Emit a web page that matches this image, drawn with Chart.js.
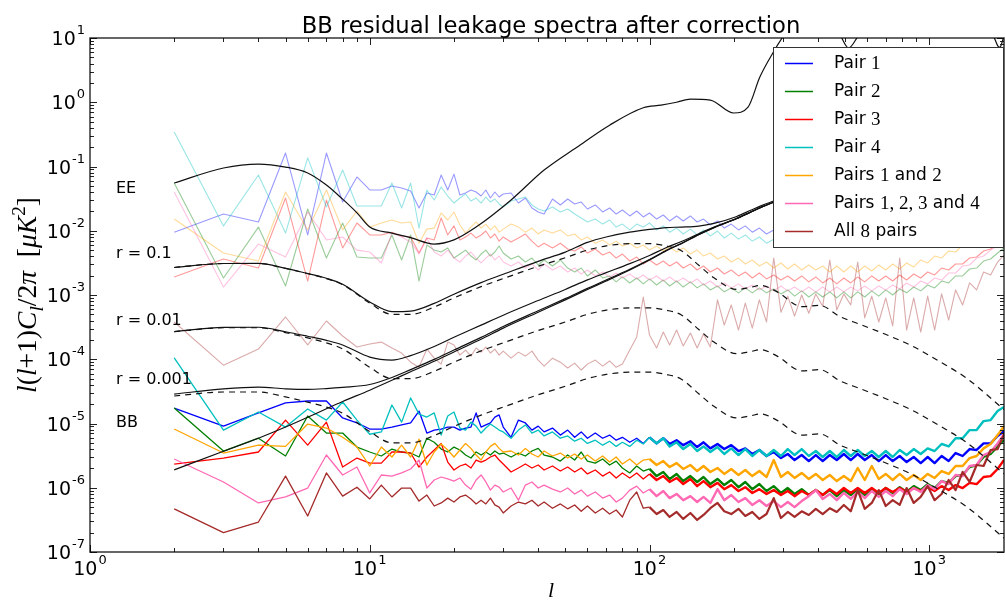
<!DOCTYPE html>
<html>
<head>
<meta charset="utf-8">
<script src="https://cdn.jsdelivr.net/npm/chart.js@4.4.0/dist/chart.umd.min.js"></script>
<style>
  body { margin: 0; background: #fff; }
  #wrap { width: 1005px; height: 601px; }
</style>
</head>
<body>
<div id="wrap"><canvas id="chart"></canvas></div>
<script>
// multipoles shared by all the measured residual spectra
const ells = [2,3,4,5,6,7,8,9,10,11,12,13,14,15,16,17,18,19,20,21,22,23,24,25,26,27,28,29,30,
  32,34,36,38,40,42,45,48,51,54,57,60,64,68,72,76,80,85,90,95,
  100,106,112,118,125,132,140,148,156,165,175,185,196,208,220,233,247,262,278,295,
  312,330,350,371,393,416,441,467,495,524,555,588,623,660,699,740,784,830,880,932,
  987,1045,1107,1173,1242,1316,1394,1477,1564,1657,1755,1850];

// BB residuals (lower group, bright)
const pair1 = [1.74e-5,9.1e-6,1.46e-5,2.1e-5,2.24e-5,2.24e-5,1.22e-5,1.02e-5,8.2e-6,8.2e-6,8.8e-6,9.5e-6,1.02e-5,1.56e-5,7.1e-6,
  7.9e-6,8.2e-6,8.8e-6,8.8e-6,7.9e-6,8.5e-6,8.8e-6,1.46e-5,8.8e-6,9.5e-6,1.02e-5,1.26e-5,1.36e-5,8.8e-6,6.1e-6,1.13e-5,1.02e-5,7.9e-6,9.1e-6,7.4e-6,8.5e-6,6.6e-6,7.9e-6,6.1e-6,7.4e-6,5.9e-6,7.1e-6,5.9e-6,6.6e-6,5.5e-6,6.1e-6,5.1e-6,5.9e-6,4.9e-6,
  6.1e-6,4.9e-6,5.9e-6,4.8e-6,5.5e-6,4.6e-6,5.3e-6,4.3e-6,5.1e-6,4.1e-6,4.8e-6,4.0e-6,4.6e-6,3.73e-6,4.1e-6,3.35e-6,3.87e-6,3.12e-6,3.6e-6,2.9e-6,
  3.35e-6,2.7e-6,3.23e-6,2.6e-6,3.23e-6,2.6e-6,3.23e-6,2.7e-6,3.35e-6,2.7e-6,3.35e-6,2.7e-6,3.23e-6,2.6e-6,3.23e-6,2.6e-6,3.12e-6,2.51e-6,3.01e-6,2.42e-6,
  3.01e-6,2.42e-6,3.12e-6,2.6e-6,3.47e-6,3.12e-6,4.0e-6,3.87e-6,4.9e-6,4.9e-6,6.4e-6,7.6e-6];
const pair2 = [1.74e-5,3.73e-6,5.9e-6,3.12e-6,1.31e-5,7.1e-6,7.1e-6,4.3e-6,3.6e-6,3.12e-6,4.0e-6,3.6e-6,3.47e-6,3.01e-6,5.9e-6,
  5.1e-6,4.0e-6,3.6e-6,4.3e-6,3.87e-6,3.23e-6,2.9e-6,3.6e-6,3.23e-6,3.6e-6,3.23e-6,3.73e-6,3.35e-6,3.47e-6,3.01e-6,3.47e-6,3.12e-6,3.73e-6,4.1e-6,3.23e-6,3.01e-6,2.6e-6,3.23e-6,2.7e-6,3.6e-6,2.6e-6,2.42e-6,2.8e-6,2.26e-6,2.6e-6,2.03e-6,1.7e-6,2.18e-6,1.82e-6,
  1.96e-6,1.52e-6,1.76e-6,1.37e-6,1.64e-6,1.27e-6,1.52e-6,1.23e-6,1.47e-6,1.14e-6,1.37e-6,1.1e-6,1.32e-6,1.02e-6,1.23e-6,9.5e-7,1.14e-6,8.9e-7,1.06e-6,8.3e-7,
  9.9e-7,8.0e-7,9.5e-7,7.7e-7,9.2e-7,7.7e-7,9.2e-7,7.4e-7,9.2e-7,7.7e-7,9.5e-7,7.7e-7,9.5e-7,8.0e-7,9.9e-7,8.3e-7,1.02e-6,8.6e-7,1.06e-6,9.2e-7,
  1.14e-6,9.9e-7,1.27e-6,1.19e-6,1.52e-6,1.58e-6,2.1e-6,2.26e-6,3.01e-6,3.35e-6,4.4e-6,5.5e-6];
const pair3 = [2.34e-6,2.9e-6,3.6e-6,1.13e-5,4.6e-6,1.05e-5,2.1e-6,2.9e-6,2.42e-6,2.42e-6,3.6e-6,3.6e-6,3.47e-6,2.1e-6,3.01e-6,
  3.87e-6,4.9e-6,2.51e-6,1.89e-6,2.18e-6,2.34e-6,2.03e-6,2.7e-6,2.51e-6,2.7e-6,3.01e-6,3.23e-6,2.7e-6,2.34e-6,1.76e-6,2.03e-6,2.34e-6,2.03e-6,2.26e-6,1.89e-6,2.18e-6,1.82e-6,2.1e-6,1.76e-6,2.03e-6,1.64e-6,1.89e-6,1.52e-6,1.76e-6,1.42e-6,1.7e-6,1.42e-6,1.7e-6,1.37e-6,
  1.64e-6,1.32e-6,1.52e-6,1.23e-6,1.42e-6,1.14e-6,1.37e-6,1.06e-6,1.27e-6,1.02e-6,1.19e-6,9.5e-7,1.1e-6,8.9e-7,1.02e-6,8.3e-7,9.5e-7,8.0e-7,9.2e-7,7.7e-7,
  8.9e-7,7.4e-7,8.9e-7,7.7e-7,9.2e-7,7.7e-7,9.5e-7,8.0e-7,9.9e-7,8.3e-7,9.9e-7,8.3e-7,9.9e-7,8.3e-7,9.9e-7,8.6e-7,9.9e-7,8.6e-7,9.9e-7,8.9e-7,
  1.02e-6,8.9e-7,1.06e-6,9.2e-7,1.1e-6,9.9e-7,1.19e-6,1.14e-6,1.47e-6,1.52e-6,1.96e-6,2.7e-6];
const pair4 = [1.05e-4,7.9e-6,1.51e-5,8.8e-6,1.68e-5,1.13e-5,2.16e-5,1.13e-5,6.8e-6,7.4e-6,1.94e-5,1.05e-5,2.5e-5,1.4e-5,1.26e-5,
  1.46e-5,6.6e-6,1.31e-5,1.51e-5,8.5e-6,7.9e-6,1.05e-5,9.1e-6,7.1e-6,8.5e-6,9.8e-6,8.8e-6,7.9e-6,7.4e-6,5.9e-6,7.9e-6,9.5e-6,7.1e-6,7.9e-6,6.4e-6,7.4e-6,5.9e-6,6.4e-6,5.3e-6,5.9e-6,4.9e-6,5.5e-6,4.6e-6,5.3e-6,4.4e-6,5.1e-6,4.4e-6,5.5e-6,4.8e-6,
  6.1e-6,4.9e-6,5.9e-6,4.4e-6,5.1e-6,4.0e-6,4.8e-6,3.73e-6,4.4e-6,3.6e-6,4.3e-6,3.35e-6,4.1e-6,3.23e-6,4.0e-6,3.12e-6,3.87e-6,3.12e-6,3.87e-6,3.12e-6,
  4.0e-6,3.23e-6,4.0e-6,3.12e-6,3.73e-6,3.01e-6,3.73e-6,3.01e-6,3.87e-6,3.12e-6,3.87e-6,3.12e-6,3.73e-6,3.01e-6,3.73e-6,3.01e-6,3.87e-6,3.23e-6,4.0e-6,3.35e-6,
  4.1e-6,3.73e-6,4.8e-6,4.4e-6,5.9e-6,5.9e-6,7.9e-6,7.9e-6,1.09e-5,1.13e-5,1.56e-5,1.81e-5];
const pairs12 = [8.2e-6,3.47e-6,4.6e-6,4.4e-6,9.8e-6,8.5e-6,6.1e-6,4.3e-6,2.18e-6,4.3e-6,3.01e-6,4.6e-6,3.01e-6,5.7e-6,2.26e-6,
  3.6e-6,4.8e-6,3.87e-6,3.01e-6,3.87e-6,4.9e-6,4.1e-6,3.23e-6,2.7e-6,3.6e-6,4.4e-6,4.9e-6,4.1e-6,3.6e-6,3.73e-6,3.23e-6,4.1e-6,3.35e-6,3.01e-6,3.73e-6,3.12e-6,3.47e-6,2.9e-6,3.35e-6,2.8e-6,3.23e-6,2.6e-6,3.12e-6,2.51e-6,3.01e-6,2.34e-6,2.8e-6,2.26e-6,2.7e-6,
  2.8e-6,2.26e-6,2.6e-6,2.1e-6,2.42e-6,1.96e-6,2.26e-6,1.82e-6,2.18e-6,1.76e-6,2.03e-6,1.64e-6,1.96e-6,1.58e-6,1.89e-6,1.52e-6,1.82e-6,1.47e-6,2.7e-6,1.47e-6,
  1.76e-6,1.42e-6,1.7e-6,1.37e-6,1.64e-6,1.32e-6,1.58e-6,1.27e-6,1.52e-6,1.27e-6,2.03e-6,1.32e-6,2.18e-6,1.37e-6,1.64e-6,1.32e-6,1.64e-6,1.32e-6,1.58e-6,1.32e-6,
  1.64e-6,1.42e-6,1.82e-6,1.64e-6,2.18e-6,2.18e-6,2.9e-6,3.12e-6,4.1e-6,4.8e-6,6.6e-6,9.1e-6];
const pairs1234 = [2.8e-6,1.23e-6,5.8e-7,7.2e-7,9.9e-7,3.23e-6,1.58e-6,2.1e-6,8.3e-7,1.58e-6,1.52e-6,1.7e-6,1.96e-6,2.7e-6,9.9e-7,
  1.32e-6,1.47e-6,1.37e-6,1.27e-6,1.42e-6,1.1e-6,9.5e-7,1.32e-6,1.58e-6,1.23e-6,9.2e-7,1.1e-6,1.02e-6,8.6e-7,9.9e-7,6.4e-7,1.1e-6,1.23e-6,9.9e-7,1.1e-6,9.5e-7,8.6e-7,9.9e-7,8.0e-7,9.2e-7,7.4e-7,8.6e-7,6.9e-7,7.7e-7,6.0e-7,6.9e-7,9.2e-7,1.06e-6,8.3e-7,
  9.5e-7,7.4e-7,8.9e-7,6.9e-7,8.0e-7,6.4e-7,7.4e-7,6.0e-7,7.2e-7,5.8e-7,9.5e-7,6.4e-7,7.7e-7,6.0e-7,6.9e-7,5.4e-7,6.4e-7,5.2e-7,6.2e-7,5.0e-7,
  6.0e-7,5.0e-7,6.2e-7,7.4e-7,9.2e-7,6.7e-7,8.0e-7,6.4e-7,8.3e-7,6.7e-7,8.6e-7,6.9e-7,8.9e-7,7.2e-7,8.9e-7,7.4e-7,9.5e-7,8.0e-7,9.9e-7,8.6e-7,
  1.1e-6,9.5e-7,1.27e-6,1.14e-6,1.58e-6,1.52e-6,2.18e-6,2.26e-6,3.23e-6,3.6e-6,4.9e-6,6.8e-6];
const all8 = [4.7e-7,2.0e-7,2.93e-7,1.52e-6,3.64e-7,1.7e-6,7.4e-7,1.02e-6,6.7e-7,1.1e-6,7.2e-7,9.9e-7,9.9e-7,6.2e-7,7.7e-7,
  5.2e-7,5.8e-7,6.9e-7,6.0e-7,7.2e-7,7.7e-7,6.7e-7,5.6e-7,6.4e-7,5.6e-7,6.9e-7,5.4e-7,5.0e-7,4.05e-7,5.2e-7,6.0e-7,5.6e-7,6.4e-7,5.2e-7,6.0e-7,4.8e-7,5.6e-7,4.7e-7,5.4e-7,4.3e-7,5.2e-7,4.05e-7,4.8e-7,3.9e-7,4.5e-7,3.51e-7,6.4e-7,8.6e-7,4.8e-7,
  5.0e-7,3.9e-7,4.5e-7,3.51e-7,4.2e-7,3.27e-7,4.05e-7,3.15e-7,3.77e-7,4.8e-7,5.8e-7,4.3e-7,3.9e-7,4.7e-7,3.64e-7,4.2e-7,3.27e-7,3.9e-7,6.9e-7,3.38e-7,
  4.2e-7,3.51e-7,4.3e-7,3.77e-7,4.7e-7,3.9e-7,4.8e-7,4.2e-7,5.4e-7,4.3e-7,9.2e-7,4.7e-7,5.8e-7,9.2e-7,5.2e-7,6.4e-7,5.4e-7,9.9e-7,5.8e-7,7.2e-7,
  1.06e-6,6.4e-7,8.0e-7,1.32e-6,9.2e-7,1.76e-6,1.23e-6,2.26e-6,2.18e-6,3.87e-6,4.0e-6,6.8e-6];

// upper group (faded)
const pair1Upper = [9.5e-3,1.82e-2,1.37e-2,0.162,8.6e-3,0.162,2.8e-2,6.87e-2,4.31e-2,4.31e-2,4.97e-2,4.63e-2,4.16e-2,2.26e-2,3.87e-2,
  3.6e-2,7.38e-2,4.31e-2,7.6e-2,3.6e-2,3.87e-2,4.31e-2,4.01e-2,3.47e-2,4.31e-2,3.23e-2,4.01e-2,3.35e-2,3.73e-2,3.87e-2,2.7e-2,3.23e-2,2.26e-2,1.96e-2,1.82e-2,3.12e-2,2.52e-2,3.12e-2,2.61e-2,2.8e-2,2.18e-2,2.52e-2,1.96e-2,2.26e-2,1.82e-2,2.1e-2,1.7e-2,2.03e-2,1.64e-2,
  1.89e-2,1.52e-2,1.76e-2,1.42e-2,1.7e-2,1.42e-2,1.7e-2,1.37e-2,1.52e-2,1.23e-2,1.42e-2,1.1e-2,1.27e-2,1.03e-2,1.19e-2,9.5e-3,1.1e-2,8.9e-3,1.03e-2,8.6e-3,
  9.5e-3,8.3e-3,9.2e-3,8.0e-3,8.9e-3,7.7e-3,8.6e-3,7.4e-3,8.3e-3,7.2e-3,8.3e-3,7.2e-3,8.3e-3,7.2e-3,8.3e-3,7.2e-3,8.3e-3,7.4e-3,8.6e-3,7.7e-3,
  8.9e-3,8.0e-3,9.5e-3,8.9e-3,1.06e-2,1.03e-2,1.23e-2,1.27e-2,1.52e-2,1.64e-2,1.96e-2,2.26e-2];
const pair2Upper = [5.54e-2,1.84e-3,1.14e-2,1.38e-3,2.18e-2,3.76e-3,1.32e-2,3.9e-3,3.76e-3,3.76e-3,8.6e-3,3.51e-3,8.6e-3,1.65e-3,6.0e-3,
  5.0e-3,4.67e-3,5.4e-3,3.76e-3,4.34e-3,5.0e-3,4.04e-3,3.51e-3,4.34e-3,5.0e-3,4.04e-3,4.67e-3,5.8e-3,4.5e-3,3.63e-3,4.04e-3,3.26e-3,3.76e-3,2.93e-3,3.51e-3,2.83e-3,3.51e-3,2.63e-3,2.28e-3,2.63e-3,1.98e-3,2.45e-3,1.84e-3,1.98e-3,1.6e-3,1.91e-3,1.54e-3,1.84e-3,1.49e-3,
  1.78e-3,1.43e-3,1.71e-3,1.38e-3,1.65e-3,1.33e-3,1.6e-3,1.29e-3,1.49e-3,1.2e-3,1.38e-3,1.12e-3,1.29e-3,1.08e-3,1.29e-3,1.08e-3,1.29e-3,1.08e-3,1.24e-3,1.04e-3,
  1.2e-3,9.6e-4,1.16e-3,9.3e-4,1.12e-3,9.3e-4,1.12e-3,9.0e-4,1.12e-3,9.0e-4,1.12e-3,9.3e-4,1.16e-3,9.6e-4,1.2e-3,1.0e-3,1.24e-3,1.08e-3,1.33e-3,1.16e-3,
  1.43e-3,1.29e-3,1.65e-3,1.54e-3,1.98e-3,1.98e-3,2.54e-3,2.63e-3,3.38e-3,3.63e-3,4.5e-3,5.4e-3];
const pair3Upper = [1.91e-3,3.63e-3,2.63e-3,3.23e-2,1.65e-3,3.01e-2,5.4e-3,1.32e-2,8.6e-3,8.6e-3,9.5e-3,8.3e-3,8.0e-3,4.5e-3,7.7e-3,
  7.2e-3,1.58e-2,8.6e-3,1.19e-2,7.2e-3,8.0e-3,9.2e-3,7.7e-3,8.6e-3,9.9e-3,7.7e-3,8.9e-3,6.9e-3,8.0e-3,6.7e-3,7.7e-3,8.9e-3,6.9e-3,5.6e-3,6.4e-3,5.4e-3,6.4e-3,5.2e-3,4.84e-3,5.6e-3,4.5e-3,5.2e-3,4.19e-3,4.67e-3,3.76e-3,4.34e-3,3.38e-3,3.9e-3,3.04e-3,
  3.51e-3,2.93e-3,3.38e-3,2.83e-3,3.26e-3,2.63e-3,3.04e-3,2.45e-3,2.83e-3,2.28e-3,2.63e-3,2.12e-3,2.45e-3,1.98e-3,2.28e-3,1.84e-3,2.2e-3,1.78e-3,2.05e-3,1.71e-3,
  1.98e-3,1.65e-3,1.98e-3,1.6e-3,1.91e-3,1.54e-3,1.84e-3,1.49e-3,1.84e-3,1.54e-3,1.91e-3,1.6e-3,1.98e-3,1.65e-3,1.98e-3,1.65e-3,2.05e-3,1.71e-3,2.12e-3,1.84e-3,
  2.28e-3,2.05e-3,2.63e-3,2.45e-3,3.04e-3,3.04e-3,3.76e-3,3.9e-3,4.84e-3,5.2e-3,6.2e-3,7.2e-3];
const pair4Upper = [0.344,1.19e-2,7.38e-2,9.2e-3,0.136,2.34e-2,8.83e-2,2.43e-2,2.43e-2,2.43e-2,5.54e-2,2.26e-2,5.54e-2,1.1e-2,4.31e-2,
  3.01e-2,4.8e-2,3.47e-2,2.7e-2,3.23e-2,3.73e-2,2.9e-2,3.23e-2,2.7e-2,3.35e-2,2.8e-2,3.12e-2,2.61e-2,2.34e-2,2.9e-2,3.12e-2,3.35e-2,2.52e-2,2.18e-2,2.03e-2,2.34e-2,1.96e-2,2.18e-2,1.82e-2,1.58e-2,1.37e-2,1.52e-2,1.27e-2,1.47e-2,1.14e-2,1.27e-2,1.03e-2,1.27e-2,1.14e-2,
  1.32e-2,1.03e-2,1.19e-2,9.5e-3,1.1e-2,8.9e-3,1.06e-2,8.6e-3,1.03e-2,8.3e-3,9.9e-3,7.7e-3,9.2e-3,7.4e-3,8.6e-3,6.9e-3,8.0e-3,6.4e-3,7.4e-3,6.2e-3,
  7.2e-3,6.0e-3,7.2e-3,6.0e-3,7.2e-3,6.0e-3,7.2e-3,6.0e-3,7.2e-3,6.0e-3,7.2e-3,6.0e-3,7.2e-3,6.2e-3,7.4e-3,6.4e-3,7.7e-3,6.7e-3,8.0e-3,7.2e-3,
  8.9e-3,8.3e-3,1.03e-2,1.03e-2,1.27e-2,1.32e-2,1.64e-2,1.82e-2,2.26e-2,2.61e-2,3.23e-2,3.87e-2];
const pairs12Upper = [1.52e-2,4.5e-3,3.38e-3,4.01e-2,1.03e-2,4.31e-2,1.03e-2,2.03e-2,1.14e-2,1.32e-2,1.47e-2,1.32e-2,1.37e-2,6.4e-3,1.06e-2,
  1.1e-2,1.89e-2,1.47e-2,1.96e-2,1.23e-2,9.2e-3,1.14e-2,1.37e-2,1.1e-2,1.27e-2,1.03e-2,1.19e-2,9.5e-3,1.06e-2,1.27e-2,1.14e-2,9.5e-3,1.1e-2,8.9e-3,1.03e-2,9.2e-3,1.03e-2,8.3e-3,8.9e-3,7.2e-3,8.0e-3,6.4e-3,7.2e-3,6.0e-3,6.9e-3,5.8e-3,6.4e-3,5.4e-3,6.0e-3,
  5.0e-3,5.8e-3,4.84e-3,5.6e-3,4.67e-3,5.4e-3,4.34e-3,5.0e-3,4.04e-3,4.5e-3,3.63e-3,4.04e-3,3.26e-3,3.76e-3,3.04e-3,3.51e-3,2.83e-3,3.26e-3,2.63e-3,3.15e-3,
  2.54e-3,3.04e-3,2.45e-3,2.93e-3,2.45e-3,2.83e-3,2.28e-3,2.83e-3,2.28e-3,2.83e-3,2.28e-3,2.83e-3,2.36e-3,2.93e-3,2.45e-3,3.04e-3,2.54e-3,3.15e-3,2.73e-3,3.51e-3,
  3.15e-3,4.04e-3,3.76e-3,4.84e-3,4.67e-3,6.0e-3,6.0e-3,7.7e-3,8.3e-3,1.03e-2,1.19e-2,1.42e-2];
const pairs1234Upper = [4.01e-2,1.33e-3,6.2e-3,3.9e-3,1.96e-2,7.2e-3,8.0e-3,5.0e-3,4.67e-3,3.15e-3,9.2e-3,8.0e-3,6.7e-3,4.34e-3,7.7e-3,
  4.67e-3,4.04e-3,5.0e-3,3.76e-3,3.26e-3,4.04e-3,4.67e-3,3.76e-3,3.15e-3,3.76e-3,4.34e-3,3.51e-3,4.04e-3,3.26e-3,2.83e-3,3.26e-3,2.63e-3,3.04e-3,2.45e-3,3.04e-3,2.45e-3,2.83e-3,2.28e-3,2.63e-3,2.12e-3,2.45e-3,1.98e-3,2.28e-3,1.91e-3,2.2e-3,1.84e-3,2.12e-3,1.78e-3,2.05e-3,
  1.71e-3,1.98e-3,1.65e-3,1.91e-3,1.6e-3,1.84e-3,1.54e-3,1.78e-3,1.43e-3,1.65e-3,1.33e-3,1.54e-3,1.29e-3,1.49e-3,1.24e-3,1.43e-3,1.2e-3,1.38e-3,1.16e-3,1.38e-3,
  1.16e-3,1.33e-3,1.12e-3,1.33e-3,1.12e-3,1.33e-3,1.12e-3,1.33e-3,1.12e-3,1.33e-3,1.16e-3,1.38e-3,1.16e-3,1.38e-3,1.2e-3,1.43e-3,1.24e-3,1.54e-3,1.33e-3,1.65e-3,
  1.49e-3,1.84e-3,1.71e-3,2.2e-3,2.2e-3,2.83e-3,2.93e-3,3.76e-3,4.04e-3,5.0e-3,5.8e-3,6.9e-3];
const all8Upper = [3.8e-4,8.1e-5,1.44e-4,4.55e-4,1.67e-4,3.94e-4,2.3e-4,1.55e-4,1.73e-4,1.85e-4,1.5e-4,1.25e-4,9.0e-5,7.5e-5,1.44e-4,
  1.04e-4,8.4e-5,1.85e-4,1.67e-4,1.16e-4,1.39e-4,1.12e-4,1.5e-4,1.29e-4,1.55e-4,1.25e-4,1.44e-4,1.16e-4,1.34e-4,1.04e-4,1.29e-4,1.12e-4,1.34e-4,9.7e-5,7.8e-5,1.04e-4,9.0e-5,7.3e-5,8.7e-5,6.8e-5,8.4e-5,9.7e-5,7.8e-5,9.4e-5,7.5e-5,8.4e-5,1.39e-4,2.22e-4,9.3e-4,
  2.38e-4,1.5e-4,2.65e-4,1.67e-4,2.85e-4,1.61e-4,2.56e-4,1.5e-4,2.47e-4,1.55e-4,8.4e-4,3.41e-4,6.98e-4,2.85e-4,7.5e-4,3.05e-4,8.4e-4,3.8e-4,3.76e-3,5.4e-4,
  9.6e-4,4.7e-4,1.0e-3,5.2e-4,1.04e-3,6.7e-4,3.51e-3,5.84e-4,1.04e-3,6.98e-4,3.26e-3,4.4e-4,9.6e-4,3.8e-4,9.0e-4,3.3e-4,3.76e-3,2.85e-4,9.0e-4,2.65e-4,
  9.6e-4,2.85e-4,1.04e-3,4.08e-4,1.2e-3,6.98e-4,1.54e-3,1.2e-3,2.28e-3,2.05e-3,3.26e-3,4.19e-3];

// model spectra
const theoryEll = [2,3,4,5,6,7,8,10,12,14,17,20,25,30,40,50,60,70,85,100,115,130,150,170,205,230,250,285,350,405,480,565,700,875,1090,1365,1850];
const lensingBB = [1.9e-6,3.7e-6,5.9e-6,8.8e-6,1.25e-5,1.7e-5,2.2e-5,3.3e-5,4.7e-5,6.4e-5,9.3e-5,1.3e-4,2.05e-4,3.05e-4,5.4e-4,8.4e-4,1.22e-3,1.65e-3,2.45e-3,3.5e-3,4.9e-3,6.3e-3,8.7e-3,1.12e-2,1.55e-2,1.95e-2,2.3e-2,2.9e-2,3.7e-2,4.3e-2,5.0e-2,5.7e-2,6.4e-2,7.0e-2,7.3e-2,7.1e-2,6.2e-2];
const tensorR01 = [2.68e-3,3.09e-3,3.09e-3,2.59e-3,2.15e-3,1.8e-3,1.45e-3,7.5e-4,5.0e-4,5.0e-4,6.5e-4,9.0e-4,1.35e-3,1.8e-3,2.8e-3,3.8e-3,5.0e-3,5.8e-3,6.3e-3,6.3e-3,5.8e-3,4.9e-3,2.9e-3,1.85e-3,1.22e-3,1.32e-3,1.41e-3,1.13e-3,6.6e-4,6.9e-4,4.6e-4,3.5e-4,2.43e-4,1.58e-4,9.2e-5,5.0e-5,1.65e-5];
const tensorR001 = [2.68e-4,3.09e-4,3.09e-4,2.59e-4,2.15e-4,1.8e-4,1.45e-4,7.5e-5,5.0e-5,5.0e-5,6.5e-5,9.0e-5,1.35e-4,1.8e-4,2.8e-4,3.8e-4,5.0e-4,5.8e-4,6.3e-4,6.3e-4,5.8e-4,4.9e-4,2.9e-4,1.85e-4,1.22e-4,1.32e-4,1.41e-4,1.13e-4,6.6e-5,6.9e-5,4.6e-5,3.5e-5,2.43e-5,1.58e-5,9.2e-6,5.0e-6,1.65e-6];
const tensorR0001 = [2.68e-5,3.09e-5,3.09e-5,2.59e-5,2.15e-5,1.8e-5,1.45e-5,7.5e-6,5.0e-6,5.0e-6,6.5e-6,9.0e-6,1.35e-5,1.8e-5,2.8e-5,3.8e-5,5.0e-5,5.8e-5,6.3e-5,6.3e-5,5.8e-5,4.9e-5,2.9e-5,1.85e-5,1.22e-5,1.32e-5,1.41e-5,1.13e-5,6.6e-6,6.9e-6,4.6e-6,3.5e-6,2.43e-6,1.58e-6,9.2e-7,5.0e-7,1.65e-7];
const totalR01 = [2.68e-3,3.09e-3,3.1e-3,2.6e-3,2.16e-3,1.82e-3,1.47e-3,7.8e-4,5.5e-4,5.6e-4,7.4e-4,1.03e-3,1.56e-3,2.1e-3,3.34e-3,4.64e-3,6.6e-3,8.0e-3,9.5e-3,1.05e-2,1.12e-2,1.14e-2,1.18e-2,1.3e-2,1.67e-2,2.08e-2,2.44e-2,3.01e-2,3.77e-2,4.37e-2,5.05e-2,5.74e-2,6.42e-2,7.02e-2,7.31e-2,7.1e-2,6.2e-2];
const totalR001 = [2.7e-4,3.13e-4,3.15e-4,2.68e-4,2.28e-4,1.97e-4,1.67e-4,1.08e-4,9.7e-5,1.14e-4,1.58e-4,2.2e-4,3.4e-4,4.85e-4,8.2e-4,1.22e-3,1.72e-3,2.23e-3,3.08e-3,4.13e-3,5.48e-3,6.79e-3,8.99e-3,1.14e-2,1.56e-2,1.96e-2,2.31e-2,2.91e-2,3.71e-2,4.31e-2,5.0e-2,5.7e-2,6.4e-2,7.0e-2,7.3e-2,7.1e-2,6.2e-2];
const totalR0001 = [2.87e-5,3.46e-5,3.68e-5,3.47e-5,3.4e-5,3.5e-5,3.65e-5,4.05e-5,5.2e-5,6.9e-5,9.95e-5,1.39e-4,2.19e-4,3.23e-4,5.68e-4,8.78e-4,1.27e-3,1.71e-3,2.51e-3,3.56e-3,4.96e-3,6.35e-3,8.73e-3,1.12e-2,1.55e-2,1.95e-2,2.3e-2,2.9e-2,3.7e-2,4.3e-2,5.0e-2,5.7e-2,6.4e-2,7.0e-2,7.3e-2,7.1e-2,6.2e-2];
const eeEll = [2,3,4,5,6,7,8,9,10,12,14,17,20,24,32,42,55,72,95,110,125,140,165,200,225,248,276,300,350,400,450,487,515,551,600,700,800,1000,1200,1400,1600,1700,1760,1790,1820,1850];
const eeModel = [0.0553,0.0948,0.109,0.098,0.0793,0.0515,0.031,0.019,0.0114,0.0092,0.0078,0.0062,0.0072,0.0114,0.0301,0.088,0.2,0.44,0.82,0.9,1.0,1.12,1.08,0.68,0.84,2.47,5.85,10.5,25,35,25,10,7,10,20,40,25,45,35,25,15,10.5,7.5,7.2,8.5,11];

const xTickExps = [0, 1, 2, 3];
const yTickExps = [1, 0, -1, -2, -3, -4, -5, -6, -7];
const curveLabels = ['EE', 'r = 0.1', 'r = 0.01', 'r = 0.001', 'BB'];

const colors = {
  pair1: [0, 0, 255], pair2: [0, 128, 0], pair3: [255, 0, 0], pair4: [0, 191, 191],
  pairs12: [255, 165, 0], pairs1234: [255, 105, 180], all8: [165, 42, 42]
};
const rgba = (c, a) => `rgba(${c[0]},${c[1]},${c[2]},${a})`;
const pts = (xs, ys) => xs.map((x, i) => ({ x: x, y: ys[i] }));

// faded spectra: one constant width so the translucent path is stroked once
function faded(ys, c) {
  return { data: pts(ells, ys), borderColor: rgba(c, 0.4), borderWidth: 1.1, tension: 0 };
}
// the dense high-l noise reads as a band, so the line gets wider past l = 100
function bright(ys, c, bandWidth) {
  return {
    data: pts(ells, ys), borderColor: rgba(c, 1), borderWidth: 1.3, tension: 0,
    segment: { borderWidth: s => (s.p0.parsed.x >= 100 ? bandWidth : 1.3) }
  };
}
function model(xs, ys, dashed) {
  return { data: pts(xs, ys), borderColor: '#111', borderWidth: 1.2,
    borderDash: dashed ? [6, 5] : [], cubicInterpolationMode: 'monotone' };
}

const datasets = [
  faded(pair1Upper, colors.pair1),
  faded(pair2Upper, colors.pair2),
  faded(pair3Upper, colors.pair3),
  faded(pair4Upper, colors.pair4),
  faded(pairs12Upper, colors.pairs12),
  faded(pairs1234Upper, colors.pairs1234),
  faded(all8Upper, colors.all8),
  bright(pair1, colors.pair1, 2.4),
  bright(pair2, colors.pair2, 2.4),
  bright(pair3, colors.pair3, 2.4),
  bright(pair4, colors.pair4, 2.4),
  bright(pairs12, colors.pairs12, 2.4),
  bright(pairs1234, colors.pairs1234, 2.4),
  bright(all8, colors.all8, 2.2),
  model(eeEll, eeModel, false),
  model(theoryEll, tensorR01, true),
  model(theoryEll, tensorR001, true),
  model(theoryEll, tensorR0001, true),
  model(theoryEll, totalR01, false),
  model(theoryEll, totalR001, false),
  model(theoryEll, totalR0001, false),
  model(theoryEll, lensingBB, false)
];
// later datasets on top, as in the original plot
datasets.forEach((d, i) => { d.order = -i; });

const legendItems = [
  { c: colors.pair1, parts: [['Pair ', 's'], ['1', 'm']] },
  { c: colors.pair2, parts: [['Pair ', 's'], ['2', 'm']] },
  { c: colors.pair3, parts: [['Pair ', 's'], ['3', 'm']] },
  { c: colors.pair4, parts: [['Pair ', 's'], ['4', 'm']] },
  { c: colors.pairs12, parts: [['Pairs ', 's'], ['1', 'm'], [' and ', 's'], ['2', 'm']] },
  { c: colors.pairs1234, parts: [['Pairs ', 's'], ['1, 2, 3', 'm'], [' and ', 's'], ['4', 'm']] },
  { c: colors.all8, parts: [['All ', 's'], ['8', 'm'], [' pairs', 's']] }
];

function tickValues(lo, hi) {
  const out = [];
  for (let e = Math.floor(Math.log10(lo)); e <= Math.ceil(Math.log10(hi)); e++) {
    for (let k = 1; k <= 9; k++) {
      const v = k * Math.pow(10, e);
      if (v >= lo * 0.999 && v <= hi * 1.001) out.push({ v: v, major: k === 1 });
    }
  }
  return out;
}

function powerLabel(ctx, exp, x, y, align) {
  const base = '10', sup = String(exp);
  ctx.font = '19px "DejaVu Sans"';
  const wb = ctx.measureText(base).width;
  ctx.font = '13px "DejaVu Sans"';
  const ws = ctx.measureText(sup).width;
  const total = wb + ws + 1;
  const x0 = align === 'center' ? x - total / 2 : x - total;
  ctx.font = '19px "DejaVu Sans"';
  ctx.fillText(base, x0, y + 7);
  ctx.font = '13px "DejaVu Sans"';
  ctx.fillText(sup, x0 + wb + 1, y - 4);
}

function drawParts(ctx, parts, x, y) {
  let cx = x;
  parts.forEach(p => {
    ctx.font = p[1];
    ctx.fillText(p[0], cx, y + (p[2] || 0));
    cx += ctx.measureText(p[0]).width;
  });
  return cx - x;
}
function partsWidth(ctx, parts) {
  let w = 0;
  parts.forEach(p => { ctx.font = p[1]; w += ctx.measureText(p[0]).width; });
  return w;
}

const decor = {
  id: 'decor',
  beforeDraw(chart) {
    const ctx = chart.ctx;
    ctx.save();
    ctx.fillStyle = '#fff';
    ctx.fillRect(0, 0, chart.width, chart.height);
    ctx.restore();
  },
  afterDatasetsDraw(chart) {
    const { ctx, chartArea: a, scales: { x, y } } = chart;
    ctx.save();

    // ticks, inward on all four sides
    ctx.strokeStyle = '#222';
    ctx.lineWidth = 1;
    ctx.beginPath();
    tickValues(x.min, x.max).forEach(t => {
      const px = Math.round(x.getPixelForValue(t.v)) + 0.5;
      const len = t.major ? 7 : 4;
      ctx.moveTo(px, a.bottom); ctx.lineTo(px, a.bottom - len);
      ctx.moveTo(px, a.top); ctx.lineTo(px, a.top + len);
    });
    tickValues(y.min, y.max).forEach(t => {
      const py = Math.round(y.getPixelForValue(t.v)) + 0.5;
      const len = t.major ? 7 : 4;
      ctx.moveTo(a.left, py); ctx.lineTo(a.left + len, py);
      ctx.moveTo(a.right, py); ctx.lineTo(a.right - len, py);
    });
    ctx.stroke();

    // frame
    ctx.strokeStyle = 'rgba(0,0,0,0.8)';
    ctx.lineWidth = 1.5;
    ctx.strokeRect(a.left, a.top, a.right - a.left, a.bottom - a.top);

    // tick labels
    ctx.fillStyle = '#000';
    ctx.textAlign = 'left';
    ctx.textBaseline = 'alphabetic';
    xTickExps.forEach(e => powerLabel(ctx, e, x.getPixelForValue(Math.pow(10, e)), 568, 'center'));
    yTickExps.forEach(e => powerLabel(ctx, e, 85, y.getPixelForValue(Math.pow(10, e)), 'right'));

    // curve labels
    ctx.font = '16px "DejaVu Sans"';
    const labelBaselines = [193, 258, 325, 384, 427];
    curveLabels.forEach((t, i) => ctx.fillText(t, 116, labelBaselines[i]));

    // title
    const title = 'BB residual leakage spectra after correction';
    ctx.font = '22px "DejaVu Sans"';
    const ts = 22 * 500 / ctx.measureText(title).width;
    ctx.font = ts.toFixed(1) + 'px "DejaVu Sans"';
    ctx.textAlign = 'center';
    ctx.fillText(title, 551, 33);

    // x label
    ctx.font = 'italic 22px "Liberation Serif"';
    ctx.fillText('l', 551, 597);

    // y label, rotated
    ctx.textAlign = 'left';
    const mk = s => {
      const it = 'italic ' + s + 'px "Liberation Serif"';
      const rm = s + 'px "Liberation Serif"';
      const sm = (s * 0.7).toFixed(1) + 'px "Liberation Serif"';
      const smi = 'italic ' + sm;
      return [['l', it], ['(', rm], ['l', it], ['+1)', rm], ['C', it], ['l', smi, s * 0.25],
        ['/2', rm], ['\u03c0', it], ['  [', rm], ['\u03bcK', it], ['2', sm, -s * 0.4], [']', rm]];
    };
    const s = 22 * 196 / partsWidth(ctx, mk(22));
    const yl = mk(s);
    const w = partsWidth(ctx, yl);
    ctx.save();
    ctx.translate(36, 295);
    ctx.rotate(-Math.PI / 2);
    drawParts(ctx, yl, -w / 2, 0);
    ctx.restore();

    // legend box
    const L = { left: 773, top: 47, right: 1004, bottom: 248 };
    ctx.fillStyle = '#fff';
    ctx.fillRect(L.left, L.top, L.right - L.left, L.bottom - L.top);
    ctx.strokeStyle = '#333';
    ctx.lineWidth = 1;
    ctx.strokeRect(L.left + 0.5, L.top + 0.5, L.right - L.left - 1, L.bottom - L.top - 1);
    ctx.textBaseline = 'middle';
    legendItems.forEach((it, i) => {
      const ry = 63 + i * 28;
      ctx.strokeStyle = rgba(it.c, 1);
      ctx.lineWidth = 1.5;
      ctx.beginPath();
      ctx.moveTo(785, ry + 0.5); ctx.lineTo(813, ry + 0.5);
      ctx.stroke();
      ctx.fillStyle = '#000';
      const parts = it.parts.map(p => [p[0], p[1] === 's' ? '17px "DejaVu Sans"' : '19px "Liberation Serif"']);
      drawParts(ctx, parts, 834, ry + 1);
    });
    ctx.restore();
  }
};

new Chart(document.getElementById('chart'), {
  type: 'line',
  data: { datasets: datasets },
  options: {
    responsive: true,
    maintainAspectRatio: false,
    animation: false,
    devicePixelRatio: 1,
    layout: { padding: { top: 38, right: 1, left: 0, bottom: 0 } },
    elements: { point: { radius: 0 }, line: { borderJoinStyle: 'round', fill: false } },
    plugins: { legend: { display: false }, tooltip: { enabled: false } },
    scales: {
      x: {
        type: 'logarithmic', min: 1, max: 1850,
        grid: { display: false }, border: { display: false }, ticks: { display: false },
        afterFit: s => { s.height = 49; }
      },
      y: {
        type: 'logarithmic', min: 1e-7, max: 10,
        grid: { display: false }, border: { display: false }, ticks: { display: false },
        afterFit: s => { s.width = 90; }
      }
    }
  },
  plugins: [decor]
});
</script>
</body>
</html>
